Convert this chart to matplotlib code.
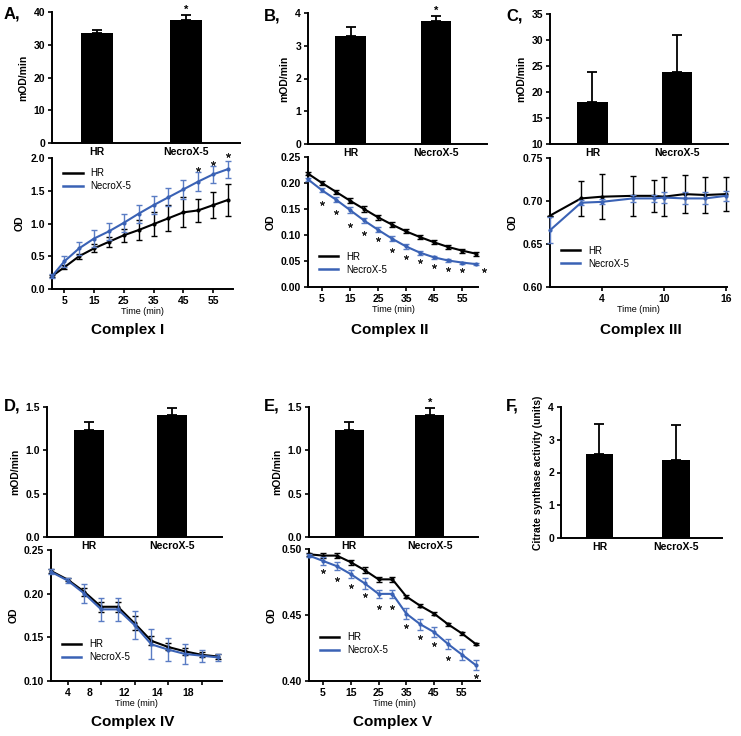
import numpy as np
import matplotlib.pyplot as plt
from matplotlib.lines import Line2D
from matplotlib.ticker import FormatStrFormatter

plt.rcParams['font.family'] = ['Liberation Sans', 'DejaVu Sans']
plt.rcParams['font.weight'] = 'bold'

W, H = 741, 736
blue = '#3a62b5'
groups = ['HR', 'NecroX-5']

# bar charts (mean, error)
a_bar = [33.5, 37.6]
a_bar_err = [1.0, 1.5]
b_bar = [3.3, 3.75]
b_bar_err = [0.27, 0.17]
c_bar = [18.0, 23.8]
c_bar_err = [5.8, 7.2]
d_bar = [1.24, 1.41]
d_bar_err = [0.09, 0.08]
e_bar = [1.24, 1.41]
e_bar_err = [0.09, 0.08]
f_bar = [2.58, 2.37]
f_bar_err = [0.9, 1.07]

# complex I
tA = [1, 5, 10, 15, 20, 25, 30, 35, 40, 45, 50, 55, 60]
a_hr = [0.2, 0.33, 0.5, 0.62, 0.72, 0.82, 0.9, 0.99, 1.08, 1.17, 1.2, 1.28, 1.36]
a_hr_err = [0.02, 0.03, 0.04, 0.06, 0.08, 0.1, 0.15, 0.18, 0.2, 0.23, 0.18, 0.2, 0.24]
a_nx = [0.2, 0.42, 0.62, 0.77, 0.88, 1.01, 1.15, 1.28, 1.4, 1.52, 1.64, 1.75, 1.83]
a_nx_err = [0.03, 0.08, 0.1, 0.13, 0.13, 0.14, 0.14, 0.14, 0.14, 0.14, 0.14, 0.13, 0.13]
a_star_t = [50, 55, 60]
a_star_y = [1.83, 1.93, 2.05]

# complex II
tB = [0, 5, 10, 15, 20, 25, 30, 35, 40, 45, 50, 55, 60]
b_hr = [0.218, 0.2, 0.183, 0.166, 0.15, 0.134, 0.12, 0.107, 0.096, 0.086, 0.077, 0.07, 0.064]
b_hr_err = [0.003, 0.003, 0.004, 0.005, 0.005, 0.005, 0.005, 0.004, 0.004, 0.004, 0.004, 0.004, 0.004]
b_nx = [0.207, 0.186, 0.168, 0.148, 0.128, 0.11, 0.093, 0.078, 0.066, 0.057, 0.051, 0.047, 0.044]
b_nx_err = [0.003, 0.004, 0.005, 0.005, 0.005, 0.005, 0.005, 0.005, 0.004, 0.003, 0.002, 0.002, 0.002]
b_star_t = [5, 10, 15, 20, 25, 30, 35, 40, 45, 50, 55, 62.8]
b_star_y = [0.162, 0.145, 0.119, 0.103, 0.092, 0.071, 0.057, 0.05, 0.041, 0.034, 0.032, 0.032]

# complex III
tC = [-1, 2, 4, 7, 9, 10, 12, 14, 16]
c_hr = [0.683, 0.703, 0.705, 0.706, 0.706, 0.705, 0.708, 0.707, 0.708]
c_hr_err = [0.0, 0.02, 0.026, 0.023, 0.019, 0.023, 0.022, 0.021, 0.02]
c_nx = [0.666, 0.698, 0.699, 0.703, 0.703, 0.704, 0.703, 0.703, 0.706]
c_nx_err = [0.015, 0.003, 0.003, 0.004, 0.004, 0.006, 0.007, 0.007, 0.006]

# complex IV
tD = [2, 4, 6, 8, 10, 12, 14, 16, 18, 20, 22]
d_hr = [0.226, 0.216, 0.202, 0.185, 0.185, 0.166, 0.146, 0.139, 0.134, 0.130, 0.128]
d_hr_err = [0.002, 0.002, 0.005, 0.006, 0.006, 0.008, 0.005, 0.004, 0.004, 0.003, 0.003]
d_nx = [0.225, 0.215, 0.200, 0.182, 0.182, 0.164, 0.142, 0.136, 0.131, 0.129, 0.127]
d_nx_err = [0.003, 0.003, 0.011, 0.013, 0.013, 0.016, 0.017, 0.013, 0.011, 0.007, 0.004]
d_tick_marks = [4, 8, 12, 16, 20]
d_tick_pos = [4, 6.6, 10.8, 14.7, 18.4]
d_tick_labels = ['4', '8', '12', '14', '18']

# complex V
tE = [0, 5, 10, 15, 20, 25, 30, 35, 40, 45, 50, 55, 60]
e_hr = [0.496, 0.495, 0.495, 0.49, 0.484, 0.477, 0.477, 0.464, 0.457, 0.451, 0.443, 0.436, 0.428]
e_hr_err = [0.001, 0.002, 0.002, 0.002, 0.002, 0.002, 0.002, 0.001, 0.001, 0.001, 0.001, 0.001, 0.001]
e_nx = [0.495, 0.491, 0.487, 0.481, 0.474, 0.466, 0.466, 0.451, 0.443, 0.437, 0.428, 0.42, 0.412]
e_nx_err = [0.001, 0.003, 0.003, 0.003, 0.004, 0.003, 0.003, 0.004, 0.004, 0.004, 0.004, 0.004, 0.004]
e_star_t = [5, 10, 15, 20, 25, 30, 35, 40, 45, 50, 60]
e_star_y = [0.483, 0.477, 0.472, 0.465, 0.456, 0.456, 0.442, 0.433, 0.428, 0.4175, 0.404]

fig = plt.figure(figsize=(W / 100, H / 100), dpi=100)


def ax_px(x0, y0, x1, y1):
    ax = fig.add_axes([x0 / W, 1 - y1 / H, (x1 - x0) / W, (y1 - y0) / H])
    ax.spines['top'].set_visible(False)
    ax.spines['right'].set_visible(False)
    ax.spines['left'].set_linewidth(1.4)
    ax.spines['bottom'].set_linewidth(1.4)
    ax.tick_params(labelsize=7.5, width=1.2, length=3, pad=2)
    return ax


def bold_ticks(ax):
    for lab in ax.get_xticklabels() + ax.get_yticklabels():
        lab.set_fontweight('bold')


def bar_panel(rect, vals, errs, ylim, yticks, ylabel, fmt, star=False):
    ax = ax_px(*rect)
    x = np.arange(len(groups))
    ax.bar(x, vals, width=0.36, color='black')
    ax.errorbar(x, vals, yerr=[np.zeros(len(vals)), errs], fmt='none', ecolor='black',
                elinewidth=1.3, capsize=3.5, capthick=1.3)
    if star:
        ax.text(x[1], vals[1] + errs[1], '*', ha='center', va='bottom', fontsize=8)
    ax.set_xlim(-0.5, 1.6)
    ax.set_ylim(*ylim)
    ax.set_yticks(yticks)
    ax.yaxis.set_major_formatter(FormatStrFormatter(fmt))
    ax.set_xticks(x)
    ax.set_xticklabels(groups, fontsize=7.5)
    ax.tick_params(axis='x', length=0, pad=3)
    ax.set_ylabel(ylabel, fontsize=7.5, fontweight='bold', labelpad=4)
    bold_ticks(ax)
    return ax


def line_panel(rect, t, hr, hr_err, nx, nx_err, xlim, ylim, yticks, fmt, legend_loc,
               star_t=None, star_y=None):
    ax = ax_px(*rect)
    ax.errorbar(t, hr, yerr=hr_err, color='black', lw=1.5, marker='o', ms=2,
                capsize=2.5, elinewidth=1, capthick=1, clip_on=False, zorder=3)
    ax.errorbar(t, nx, yerr=nx_err, color=blue, ecolor='#5a7cc4', lw=1.5, marker='o', ms=2,
                capsize=2.5, elinewidth=1, capthick=1, clip_on=False, zorder=4)
    if star_t is not None:
        ax.plot(star_t, star_y, ls='none', marker=(5, 2, 0), ms=3.5, mew=0.6,
                color='#222222', clip_on=False)
    ax.set_xlim(*xlim)
    ax.set_ylim(*ylim)
    ax.set_yticks(yticks)
    ax.yaxis.set_major_formatter(FormatStrFormatter(fmt))
    ax.set_ylabel('OD', fontsize=7.5, fontweight='bold', labelpad=4)
    ax.set_xlabel('Time (min)', fontsize=6.5, fontweight='normal', labelpad=1)
    handles = [Line2D([], [], color='black', lw=1.8), Line2D([], [], color=blue, lw=1.8)]
    ax.legend(handles, ['HR', 'NecroX-5'], loc='upper left', bbox_to_anchor=legend_loc,
              frameon=False, prop={'size': 7, 'weight': 'normal'}, handlelength=2,
              handletextpad=0.8, labelspacing=0.3, borderaxespad=0)
    return ax


# panel A
bar_panel((52, 12, 240, 143), a_bar, a_bar_err, (0, 40), [0, 10, 20, 30, 40], 'mOD/min', '%d', star=True)
ax = line_panel((52, 158, 233, 289), tA, a_hr, a_hr_err, a_nx, a_nx_err, (0.9, 61.7),
                (0, 2.0), [0, 0.5, 1.0, 1.5, 2.0], '%.1f', (0.04, 0.95), a_star_t, a_star_y)
ax.set_xticks([5, 15, 25, 35, 45, 55])
bold_ticks(ax)

# panel B
bar_panel((308, 13, 487, 144), b_bar, b_bar_err, (0, 4), [0, 1, 2, 3, 4], 'mOD/min', '%d', star=True)
ax = line_panel((308, 157, 478, 287), tB, b_hr, b_hr_err, b_nx, b_nx_err, (0, 60.7),
                (0, 0.25), [0, 0.05, 0.10, 0.15, 0.20, 0.25], '%.2f', (0.04, 0.3), b_star_t, b_star_y)
ax.set_xticks([5, 15, 25, 35, 45, 55])
bold_ticks(ax)

# panel C
bar_panel((550, 14, 728, 144), c_bar, c_bar_err, (10, 35), [10, 15, 20, 25, 30, 35], 'mOD/min', '%d')
ax = line_panel((550, 158, 727, 287), tC, c_hr, c_hr_err, c_nx, c_nx_err, (-1, 16.1),
                (0.60, 0.75), [0.60, 0.65, 0.70, 0.75], '%.2f', (0.04, 0.35))
ax.set_xticks([4, 10, 16])
bold_ticks(ax)

# panel D
bar_panel((47, 407, 222, 537), d_bar, d_bar_err, (0, 1.5), [0, 0.5, 1.0, 1.5], 'mOD/min', '%.1f')
ax = line_panel((51, 550, 222, 681), tD, d_hr, d_hr_err, d_nx, d_nx_err, (2, 22.45),
                (0.10, 0.25), [0.10, 0.15, 0.20, 0.25], '%.2f', (0.04, 0.35))
ax.xaxis.remove_overlapping_locs = False
ax.set_xticks(d_tick_marks)
ax.set_xticklabels([])
ax.set_xticks(d_tick_pos, minor=True)
ax.set_xticklabels(d_tick_labels, minor=True, fontsize=7.5, fontweight='bold')
ax.tick_params(axis='x', which='minor', length=0, pad=5)
bold_ticks(ax)

# panel E
bar_panel((309, 407, 478, 537), e_bar, e_bar_err, (0, 1.5), [0, 0.5, 1.0, 1.5], 'mOD/min', '%.1f', star=True)
ax = line_panel((309, 549, 480, 681), tE, e_hr, e_hr_err, e_nx, e_nx_err, (0, 61.5),
                (0.40, 0.50), [0.40, 0.45, 0.50], '%.2f', (0.04, 0.4), e_star_t, e_star_y)
ax.set_xticks([5, 15, 25, 35, 45, 55])
bold_ticks(ax)

# panel F
bar_panel((561, 407, 722, 538), f_bar, f_bar_err, (0, 4), [0, 1, 2, 3, 4],
          'Citrate synthase activity (units)', '%d')

# panel letters and titles
letters = ['A,', 'B,', 'C,', 'D,', 'E,', 'F,']
letter_pos = [(4, 14), (264, 16), (506, 16), (4, 406), (264, 406), (506, 406)]
for s, (x, y) in zip(letters, letter_pos):
    fig.text(x / W, 1 - y / H, s, fontsize=12, fontweight='bold', va='center')

titles = ['Complex I', 'Complex II', 'Complex III', 'Complex IV', 'Complex V']
title_pos = [(128, 330), (390, 330), (641, 330), (133, 722), (393, 722)]
for s, (x, y) in zip(titles, title_pos):
    fig.text(x / W, 1 - y / H, s, fontsize=11, fontweight='bold', ha='center', va='center')

fig.savefig('out.png', dpi=100)
